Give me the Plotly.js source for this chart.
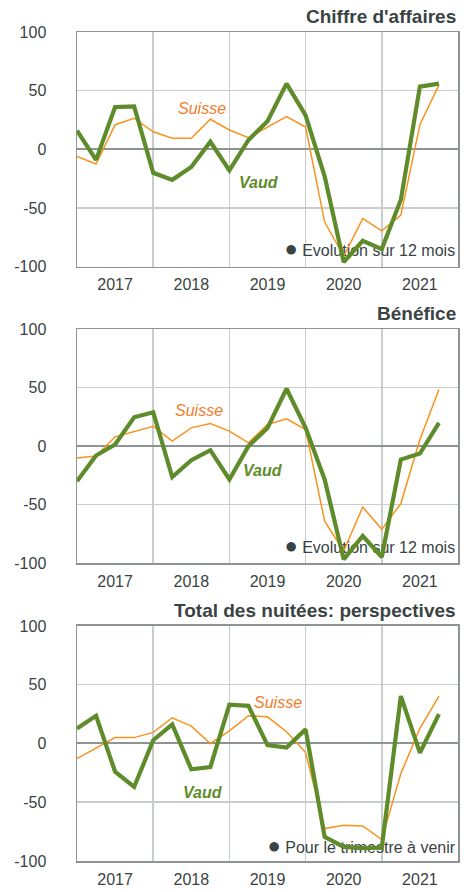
<!DOCTYPE html>
<html>
<head>
<meta charset="utf-8">
<script src="https://cdn.plot.ly/plotly-3.0.1.min.js"></script>
<style>
html,body{margin:0;padding:0;background:#fff;}
#chart{width:475px;height:892px;}
</style>
</head>
<body>
<div id="chart"></div>
<script>
// Quarterly index positions (0..19); year labels centred on each year's span
const quarters = [0,1,2,3,4,5,6,7,8,9,10,11,12,13,14,15,16,17,18,19];
const yearLabels = ["2017","2018","2019","2020","2021"];
const yearCenters = [2,6,10,14,18];
const yearBounds = [4,8,12,16];

const titles = ["Chiffre d'affaires", "Bénéfice", "Total des nuitées: perspectives"];
const notes = ["Evolution sur 12 mois", "Evolution sur 12 mois", "Pour le trimestre à venir"];

const caVaud    = [16,-9,36,36.5,-20,-26,-15,6.5,-18,8,24,56,29,-23,-96,-78,-85,-43,53.5,56];
const caSuisse  = [-6,-12.5,21,26.5,15,9.4,9.4,25.6,16.5,10,19,28,19,-62,-91,-59,-69.5,-56,21,55];

const benVaud   = [-30,-8,1.4,24.7,29,-26.4,-12,-3.4,-28.4,0,15.6,49,15.6,-28.4,-96.6,-76.7,-94.6,-11.4,-6.3,19.9];
const benSuisse = [-10,-8.5,8,12.8,17,4.3,15.6,19.3,12.8,2.8,18.5,23.3,14.2,-64,-89.5,-52,-71,-49,5.7,48.3];

const nuitVaud   = [12.8,23.6,-24,-37,2.8,16.2,-22,-20,33,32,-1.4,-3.4,12,-79.5,-88,-89,-88.6,40.3,-8,25];
const nuitSuisse = [-12.8,-3.7,5,5,9.4,21.9,14.8,0,10.8,23.6,22.7,10,-7.7,-72.4,-69.6,-70.2,-81.8,-25.6,12.8,40.3];

const GREEN = "#5f8c2a";
const ORANGE = "#f7931e";
const ORANGE_TXT = "#f47b2b";
const DARK = "#3a4343";
const GRID = "#c9cccc";
const FRAME = "#8e9393";
const FONT = "Liberation Sans, Arial, sans-serif";

const series = [[caVaud, caSuisse],[benVaud, benSuisse],[nuitVaud, nuitSuisse]];
const noteY = [-87.5, -88, -89.6];

const data = [];
series.forEach((s, k) => {
  const xa = k === 0 ? "x" : "x" + (k+1);
  const ya = k === 0 ? "y" : "y" + (k+1);
  // note text drawn first so the lines pass over it
  data.push({x:[19.85], y:[noteY[k]], mode:"text",
    text:["<span style='font-size:22px'>●</span> " + notes[k]], textposition:"middle left",
    textfont:{family:FONT, size:16, color:DARK}, xaxis:xa, yaxis:ya, hoverinfo:"skip", showlegend:false, cliponaxis:false});
  data.push({x:quarters, y:s[1], mode:"lines", line:{color:ORANGE, width:1.5}, xaxis:xa, yaxis:ya, showlegend:false, hoverinfo:"skip"});
  data.push({x:quarters, y:s[0], mode:"lines", line:{color:GREEN, width:4.2}, xaxis:xa, yaxis:ya, showlegend:false, hoverinfo:"skip"});
});

const domains = [[0.7169,1.0],[0.3591,0.6417],[0.0,0.2835]];
const layout = {
  width:475, height:892,
  margin:{l:77, r:17, t:32, b:31},
  paper_bgcolor:"#fff", plot_bgcolor:"#fff",
  showlegend:false,
  annotations:[],
};

function xAxis(anchor){
  return {
    anchor:anchor, range:[0,20], fixedrange:true,
    tickmode:"array", tickvals:yearCenters, ticktext:yearLabels,
    showgrid:false, zeroline:false, ticks:"", ticklabelstandoff:3,
    tickfont:{family:FONT, size:16, color:DARK},
    showline:true, linecolor:FRAME, linewidth:1.5, mirror:true,
    minor:{tickmode:"array", tickvals:yearBounds, showgrid:true, gridcolor:GRID, gridwidth:1.5, ticks:""}
  };
}
function yAxis(anchor, dom){
  return {
    anchor:anchor, domain:dom, range:[-100,100], fixedrange:true,
    tickmode:"array", tickvals:[-100,-50,0,50,100], ticktext:["-100","-50","0","50","100"],
    showgrid:true, gridcolor:GRID, gridwidth:1.5,
    zeroline:true, zerolinecolor:FRAME, zerolinewidth:2,
    ticks:"", ticklabelstandoff:26,
    tickfont:{family:FONT, size:16, color:DARK},
    showline:true, linecolor:FRAME, linewidth:1.5, mirror:true
  };
}
layout.xaxis = xAxis("y");
layout.xaxis2 = xAxis("y2");
layout.xaxis3 = xAxis("y3");
layout.yaxis = yAxis("x", domains[0]);
layout.yaxis2 = yAxis("x2", domains[1]);
layout.yaxis3 = yAxis("x3", domains[2]);

// titles, top right above each panel
titles.forEach((t, k) => {
  const ya = k === 0 ? "y domain" : "y" + (k+1) + " domain";
  const xa = k === 0 ? "x domain" : "x" + (k+1) + " domain";
  layout.annotations.push({text:t, xref:xa, yref:ya, x:1.0, y:1.0, xanchor:"right", yanchor:"bottom", yshift:3,
    showarrow:false, font:{family:FONT, size:19, color:DARK, weight:"bold"}});
});

// series name labels
const labelPos = [
  {s:[6.55,35], v:[9.55,-28.5]},
  {s:[6.4,30.7], v:[9.76,-20.5]},
  {s:[10.55,34.6], v:[6.6,-41.3]}
];
labelPos.forEach((p, k) => {
  const xa = k === 0 ? "x" : "x" + (k+1);
  const ya = k === 0 ? "y" : "y" + (k+1);
  layout.annotations.push({text:"<i>Suisse</i>", xref:xa, yref:ya, x:p.s[0], y:p.s[1], showarrow:false,
    font:{family:FONT, size:16, color:ORANGE_TXT}});
  layout.annotations.push({text:"<b><i>Vaud</i></b>", xref:xa, yref:ya, x:p.v[0], y:p.v[1], showarrow:false,
    font:{family:FONT, size:16, color:GREEN}});
});

Plotly.newPlot("chart", data, layout, {staticPlot:true, displayModeBar:false});
</script>
</body>
</html>
